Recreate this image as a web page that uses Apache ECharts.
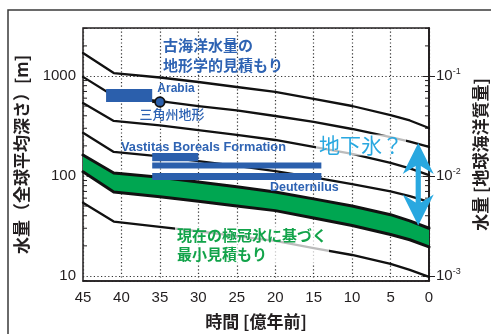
<!DOCTYPE html>
<html>
<head>
<meta charset="utf-8">
<script src="https://cdn.jsdelivr.net/npm/echarts@6/dist/echarts.min.js"></script>
<style>
  html, body { margin: 0; padding: 0; background: #fff; }
  #chart { width: 491px; height: 334px; }
</style>
</head>
<body>
<div id="chart"></div>
<script>
// Time before present [億年前]
const times = [45, 41, 35, 30, 25, 20, 15, 10, 5, 2.5, 0];

// Water-volume evolution curves, global equivalent layer [m]
const curve1 = [1700, 1070, 966, 871, 776, 692, 589, 501, 407, 359, 302];
const curve2 = [980, 630, 560, 500, 452, 398, 347, 295, 245, 221, 195];
const curve3 = [537, 355, 320, 288, 257, 229, 195, 166, 135, 119, 102];
const curve4 = [270, 174, 157, 141, 126, 112, 97, 83, 70, 63, 55];
const capMinUpper = [162, 107, 97, 87, 78, 69, 59, 50, 41, 35.5, 30];
const capMinLower = [110, 69, 62, 56, 50, 45, 38, 32, 26, 23, 19.5];
const curve5 = [54, 35, 31, 28, 25, 22.4, 19, 16.2, 13.2, 11.5, 9.8];

// Geomorphological paleo-ocean estimates: time span and water range
const estStart = [42, 36, 36, 36];
const estEnd = [36, 30, 14, 14];
const estLow = [550, 140, 119, 91];
const estHigh = [740, 170, 136, 107];

// Delta landform estimate (Arabia)
const deltaTime = 35;
const deltaValue = 550;
const deltaTimeErr = 1;

// Possible subsurface ice range
const groundIceTime = 1.4;
const groundIceHigh = 214;
const groundIceLow = 32;

// Axis ranges
const xMin = 0, xMax = 45, xStep = 5;
const yMin = 8.9, yMax = 3020;
const oceanMassPerMeter = 1e-4;

const INK = '#231f20';
const GREEN = '#00a651';
const BLUE = '#2b5fac';
const TEXT_BLUE = '#2e63b3';
const SKY = '#29a8e0';
const NUM_FONT = '"Liberation Sans", Arial, sans-serif';
const JP_FONT = '"Noto Sans CJK JP", "Noto Sans", sans-serif';

const pts = arr => times.map((t, i) => [t, arr[i]]);

function isPow10(v) {
  const l = Math.log10(v);
  return Math.abs(l - Math.round(l)) < 1e-6;
}

// log-axis minor tick values (2..9 per decade)
const minorVals = [];
for (let d = 1; d <= 1000; d *= 10) {
  for (let m = 2; m <= 9; m++) {
    const v = m * d;
    if (v > yMin && v < yMax) minorVals.push(v);
  }
}

const lineSeries = (arr, width) => ({
  type: 'line',
  data: pts(arr),
  symbol: 'none',
  smooth: false,
  lineStyle: { color: '#111', width: width, cap: 'round', join: 'round' },
  z: 4,
  silent: true
});

const chart = echarts.init(document.getElementById('chart'), null, { renderer: 'canvas' });

chart.setOption({
  animation: false,
  backgroundColor: '#fff',
  grid: {
    left: 83, right: 62, top: 28, bottom: 53,
    containLabel: false,
    outerBoundsMode: 'none',
    show: true, borderColor: INK, borderWidth: 1.5, backgroundColor: 'transparent'
  },
  xAxis: {
    type: 'value',
    min: xMin, max: xMax, interval: xStep,
    inverse: true,
    name: '時間 [億年前]',
    nameLocation: 'middle',
    nameGap: 32,
    nameTextStyle: { fontFamily: JP_FONT, fontWeight: 'bold', fontSize: 17, color: INK },
    axisLine: { show: true, lineStyle: { color: INK, width: 1.5 } },
    axisTick: { show: false },
    axisLabel: { fontFamily: NUM_FONT, fontSize: 15, color: INK, margin: 9 },
    splitLine: { show: true, lineStyle: { color: '#333', type: [1.2, 2.4], width: 1.2 } }
  },
  yAxis: [
    {
      type: 'log',
      logBase: 10,
      min: yMin, max: yMax,
      name: '水量（全球平均深さ）[m]',
      nameLocation: 'middle',
      nameRotate: 90,
      nameGap: 53,
      nameTextStyle: { fontFamily: JP_FONT, fontWeight: 'bold', fontSize: 17, color: INK },
      axisLine: { show: true, lineStyle: { color: INK, width: 1.5 } },
      axisTick: { show: true, inside: true, length: 6, lineStyle: { color: INK, width: 1 } },
      axisLabel: {
        fontFamily: NUM_FONT, fontSize: 15, color: INK, margin: 7,
        showMinLabel: false, showMaxLabel: false,
        formatter: v => isPow10(v) ? String(Math.round(v)) : ''
      },
      splitLine: { show: true, lineStyle: { color: '#333', type: [1.2, 2.4], width: 1.2 } }
    },
    {
      type: 'log',
      logBase: 10,
      min: yMin * oceanMassPerMeter, max: yMax * oceanMassPerMeter,
      position: 'right',
      name: '水量 [地球海洋質量]',
      nameLocation: 'middle',
      nameRotate: 90,
      nameGap: 41,
      nameTextStyle: { fontFamily: JP_FONT, fontWeight: 'bold', fontSize: 17, color: INK },
      axisLine: { show: true, lineStyle: { color: INK, width: 1.5 } },
      axisTick: { show: true, inside: true, length: 6, lineStyle: { color: INK, width: 1 } },
      axisLabel: {
        margin: 7,
        showMinLabel: false, showMaxLabel: false,
        formatter: v => isPow10(v) ? '{b|10}{s|' + Math.round(Math.log10(v)) + '}' : '',
        rich: {
          b: { fontFamily: NUM_FONT, fontSize: 15, color: INK },
          s: { fontFamily: NUM_FONT, fontSize: 9, color: INK, padding: [0, 0, 8, 0] }
        }
      },
      splitLine: { show: false }
    }
  ],
  series: [
    // minor log ticks on both vertical axes
    {
      type: 'custom',
      silent: true,
      data: [[xMax, 100]],
      z: 2,
      renderItem: (params, api) => {
        const children = [];
        minorVals.forEach(v => {
          const l = api.coord([xMax, v]);
          const r = api.coord([xMin, v]);
          children.push({ type: 'line', shape: { x1: l[0], y1: l[1], x2: l[0] + 4, y2: l[1] }, style: { stroke: INK, lineWidth: 1 } });
          children.push({ type: 'line', shape: { x1: r[0], y1: r[1], x2: r[0] - 4, y2: r[1] }, style: { stroke: INK, lineWidth: 1 } });
        });
        return { type: 'group', children };
      }
    },
    // minimum estimate band from present polar caps
    {
      type: 'custom',
      silent: true,
      data: [[xMax, capMinUpper[0]]],
      z: 3,
      renderItem: (params, api) => {
        const poly = [];
        times.forEach((t, i) => poly.push(api.coord([t, capMinUpper[i]])));
        for (let i = times.length - 1; i >= 0; i--) poly.push(api.coord([times[i], capMinLower[i]]));
        return { type: 'polygon', shape: { points: poly }, style: { fill: GREEN } };
      }
    },
    lineSeries(curve1, 2.3),
    lineSeries(curve2, 2.3),
    lineSeries(curve3, 2.3),
    lineSeries(curve4, 2.3),
    lineSeries(capMinUpper, 3),
    lineSeries(capMinLower, 3),
    lineSeries(curve5, 2.3),
    // geomorphological estimates
    {
      type: 'custom',
      silent: true,
      data: estStart.map((s, i) => [s, estEnd[i], estLow[i], estHigh[i]]),
      encode: { x: [0, 1], y: [2, 3] },
      z: 6,
      renderItem: (params, api) => {
        const a = api.coord([api.value(0), api.value(3)]);
        const b = api.coord([api.value(1), api.value(2)]);
        return {
          type: 'rect',
          shape: { x: a[0], y: a[1], width: b[0] - a[0], height: b[1] - a[1] },
          style: { fill: BLUE }
        };
      }
    },
    // delta landform point with time uncertainty
    {
      type: 'custom',
      silent: true,
      data: [[deltaTime, deltaValue, deltaTimeErr]],
      z: 7,
      renderItem: (params, api) => {
        const c = api.coord([api.value(0), api.value(1)]);
        const l = api.coord([api.value(0) + api.value(2), api.value(1)]);
        const r = api.coord([api.value(0) - api.value(2), api.value(1)]);
        return {
          type: 'group',
          children: [
            { type: 'line', shape: { x1: l[0], y1: l[1], x2: r[0], y2: r[1] }, style: { stroke: '#111', lineWidth: 2.2 } },
            { type: 'circle', shape: { cx: c[0], cy: c[1], r: 4.8 }, style: { fill: BLUE, stroke: '#111', lineWidth: 1.8 } }
          ]
        };
      }
    },
    // possible subsurface ice: double-headed arrow
    {
      type: 'custom',
      silent: true,
      clip: false,
      data: [[groundIceTime, groundIceHigh, groundIceLow]],
      z: 8,
      renderItem: (params, api) => {
        const top = api.coord([api.value(0), api.value(1)]);
        const bot = api.coord([api.value(0), api.value(2)]);
        const cx = top[0];
        const hw = 15.5, hl = 31, notch = 23, sw = 2.6;
        const p = [
          [cx, top[1]],
          [cx + hw, top[1] + hl],
          [cx + sw, top[1] + notch],
          [cx + sw, bot[1] - notch],
          [cx + hw, bot[1] - hl],
          [cx, bot[1]],
          [cx - hw, bot[1] - hl],
          [cx - sw, bot[1] - notch],
          [cx - sw, top[1] + notch],
          [cx - hw, top[1] + hl]
        ];
        return { type: 'polygon', shape: { points: p }, style: { fill: SKY } };
      }
    }
  ],
  graphic: [
    {
      type: 'rect', z: -10, silent: true,
      shape: { x: 8, y: 10, width: 520, height: 360 },
      style: { fill: 'none', stroke: '#3a3a3a', lineWidth: 1.5 }
    },
    {
      type: 'text', x: 163, y: 35, z: 100,
      style: {
        text: '古海洋水量の\n地形学的見積もり',
        fill: TEXT_BLUE, font: 'bold 15px ' + JP_FONT, lineHeight: 20,
        align: 'left', verticalAlign: 'top'
      }
    },
    {
      type: 'text', x: 176, y: 89, z: 100,
      style: { text: 'Arabia', fill: TEXT_BLUE, font: 'bold 12px ' + NUM_FONT, align: 'center', verticalAlign: 'middle' }
    },
    {
      type: 'text', x: 172, y: 114, z: 100,
      style: { text: '三角州地形', fill: TEXT_BLUE, font: '500 13px ' + JP_FONT, align: 'center', verticalAlign: 'middle' }
    },
    {
      type: 'text', x: 121, y: 147, z: 100,
      style: { text: 'Vastitas Boreals Formation', fill: TEXT_BLUE, font: 'bold 12.8px ' + NUM_FONT, align: 'left', verticalAlign: 'middle' }
    },
    {
      type: 'text', x: 270, y: 188, z: 100,
      style: { text: 'Deuternilus', fill: TEXT_BLUE, font: 'bold 12.5px ' + NUM_FONT, align: 'left', verticalAlign: 'middle' }
    },
    {
      type: 'text', x: 361, y: 145, z: 100,
      style: {
        text: '地下氷？', fill: SKY, font: '21px ' + JP_FONT, align: 'center', verticalAlign: 'middle',
        backgroundColor: 'rgba(255,255,255,0.72)', padding: [0, 3, 0, 3]
      }
    },
    {
      type: 'text', x: 175, y: 226, z: 100,
      style: {
        text: '現在の極冠氷に基づく\n最小見積もり',
        fill: '#12a34a', font: 'bold 15px ' + JP_FONT, lineHeight: 19,
        align: 'left', verticalAlign: 'top',
        backgroundColor: 'rgba(255,255,255,0.72)', padding: [0, 2, 0, 2]
      }
    }
  ]
});
</script>
</body>
</html>
